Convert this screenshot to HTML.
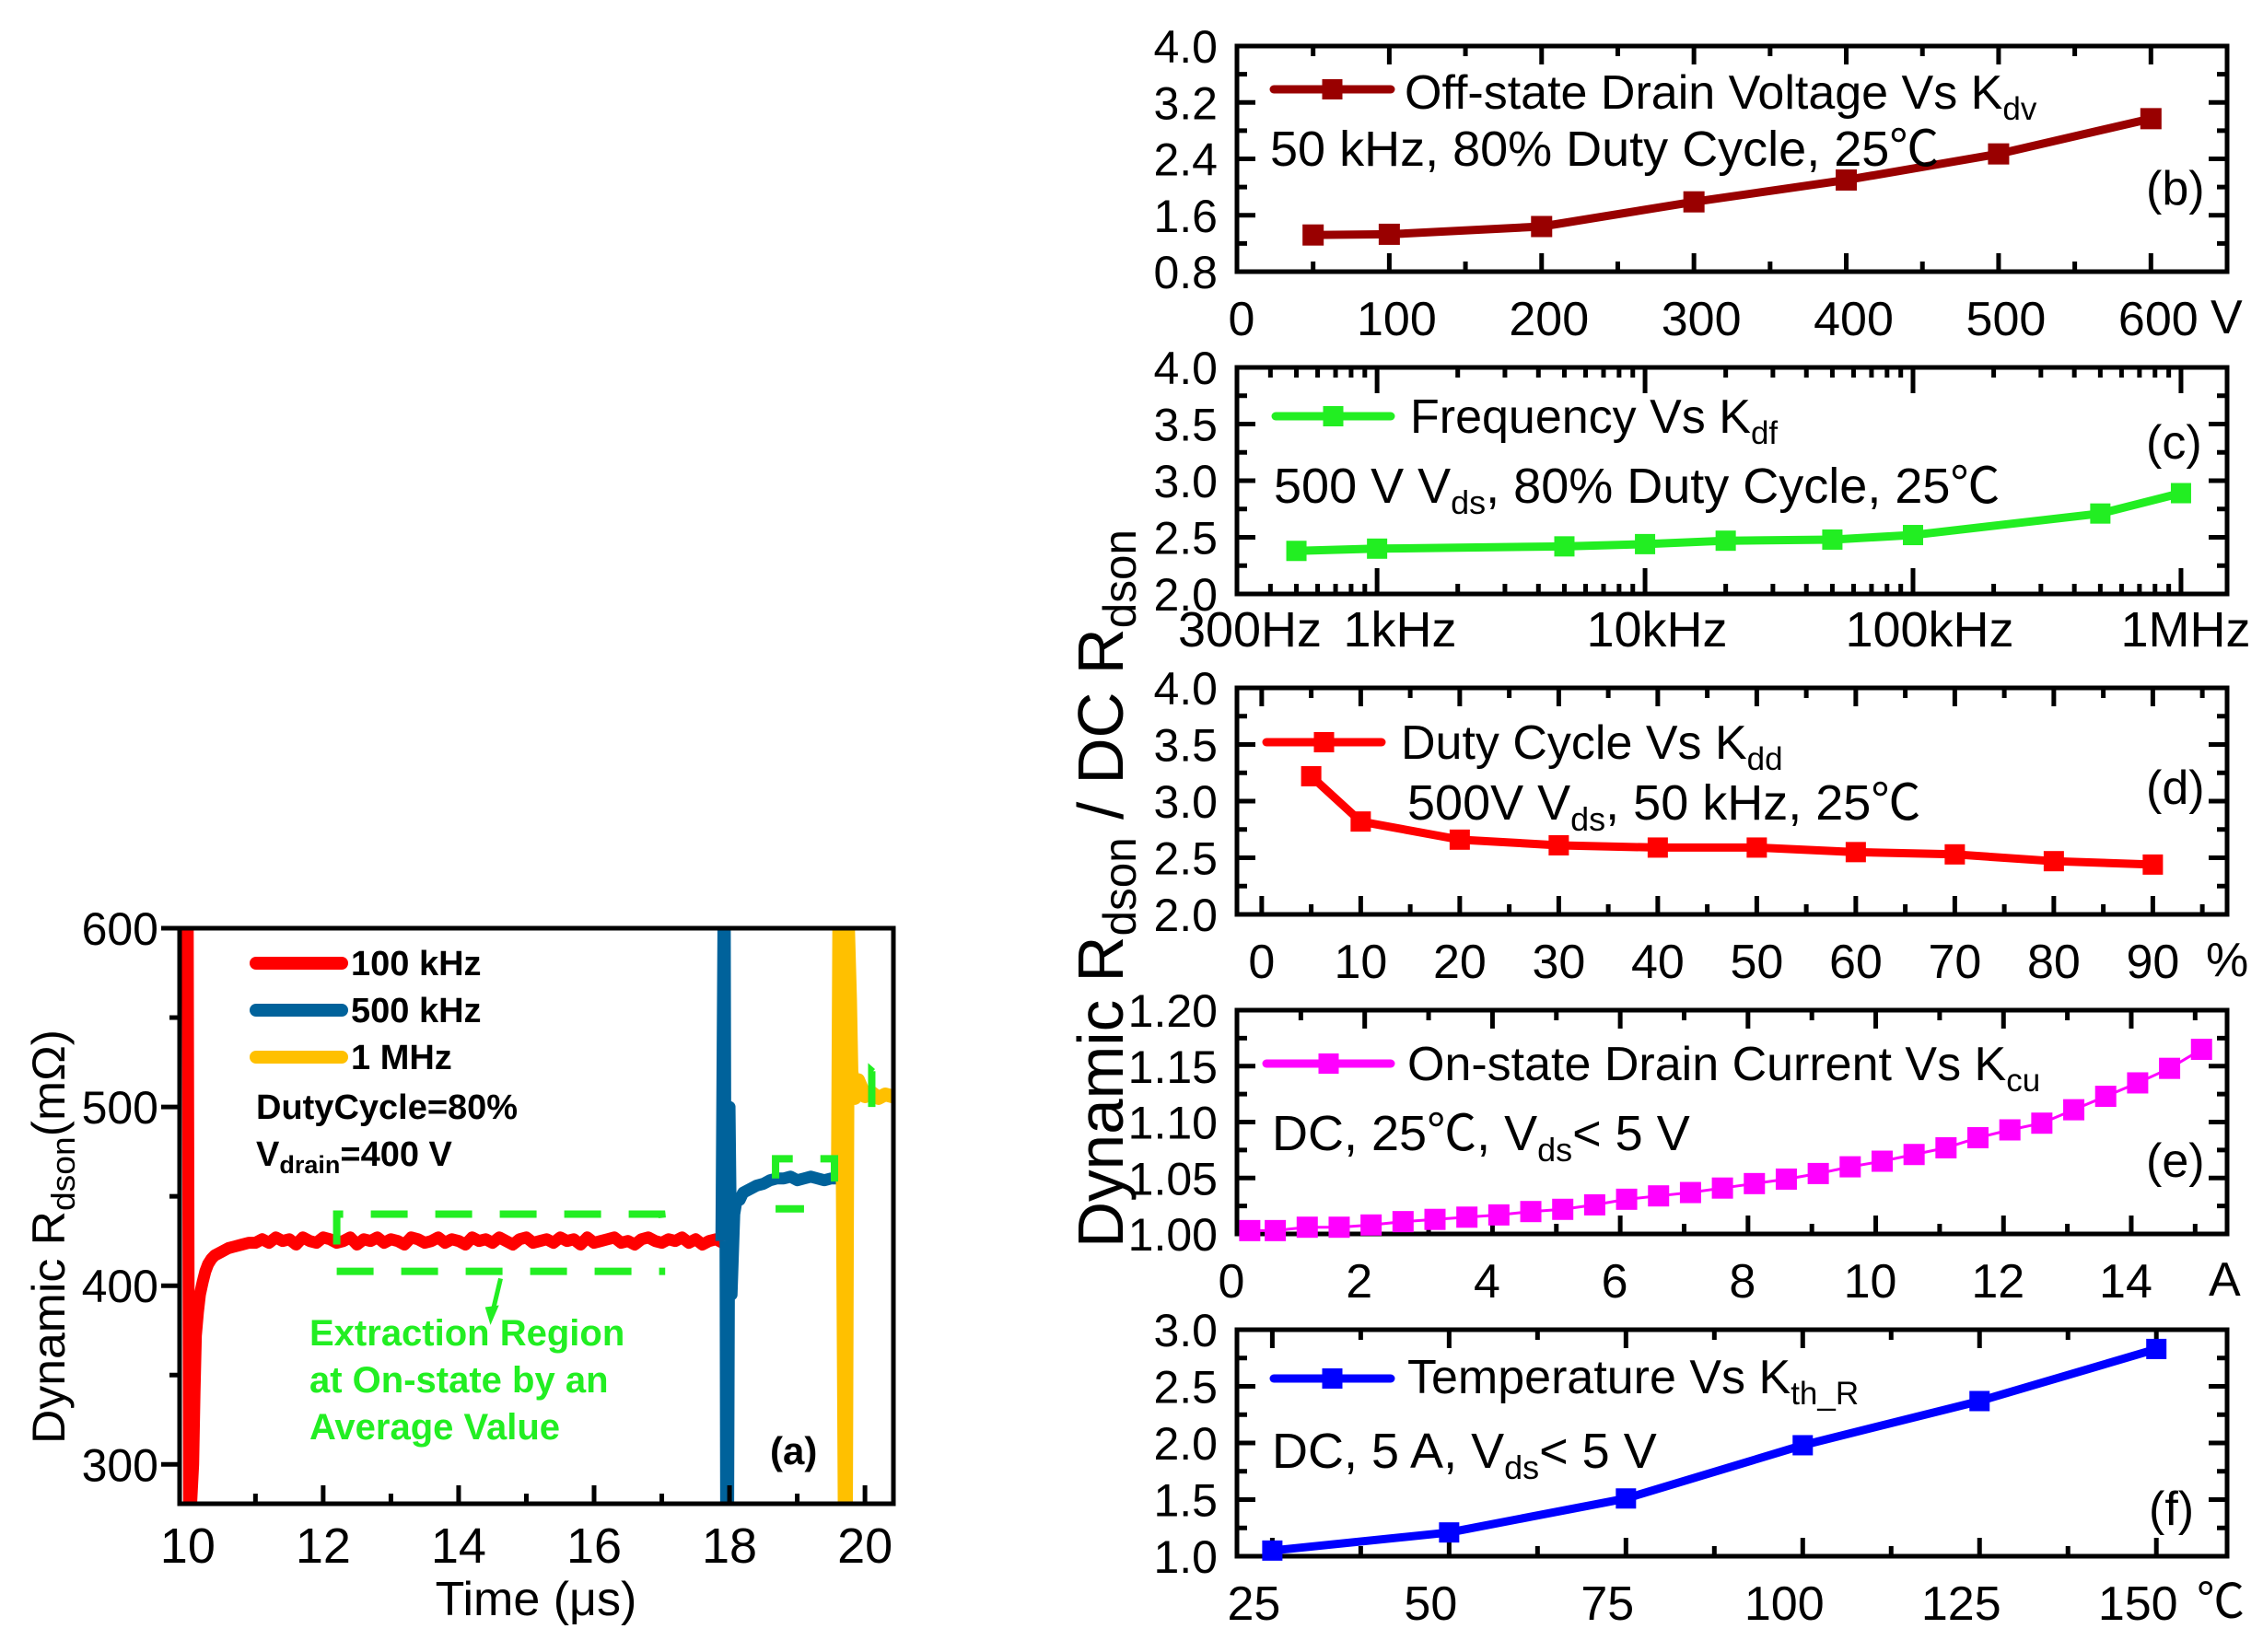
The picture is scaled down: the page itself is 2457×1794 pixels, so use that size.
<!DOCTYPE html>
<html><head><meta charset="utf-8"><style>
html,body{margin:0;padding:0;background:#fff}
svg{display:block;font-family:"Liberation Sans","Noto Sans CJK SC",sans-serif}
</style></head><body>
<svg id="fig" width="2457" height="1794" viewBox="0 0 2457 1794" xmlns="http://www.w3.org/2000/svg">
<rect width="2457" height="1794" fill="#fff"/>
<defs><clipPath id="clipA"><rect x="195" y="1008" width="775" height="625"/></clipPath></defs>
<g id="layer"></g>

<text transform="translate(1219,965) rotate(-90)" text-anchor="middle" font-size="70" textLength="780" lengthAdjust="spacingAndGlyphs">Dynamic R<tspan font-size="50" dy="14">dson</tspan><tspan dy="-14"> / DC R</tspan><tspan font-size="50" dy="14">dson</tspan></text>
<text transform="translate(70,1343) rotate(-90)" text-anchor="middle" font-size="50" textLength="450" lengthAdjust="spacingAndGlyphs">Dynamic R<tspan font-size="36" dy="11">dson</tspan><tspan dy="-11">(mΩ)</tspan></text>
<text x="582" y="1754" text-anchor="middle" font-size="52">Time (μs)</text>

<g font-weight="bold" font-size="38">
<text x="381" y="1059">100 kHz</text>
<text x="381" y="1110">500 kHz</text>
<text x="381" y="1161">1 MHz</text>
<text x="278" y="1215">DutyCycle=80%</text>
<text x="278" y="1266">V<tspan font-size="27" dy="8">drain</tspan><tspan dy="-8">=400 V</tspan></text>
<text x="836" y="1590" font-size="42">(a)</text>
<g fill="#22ee22" font-size="40">
<text x="336" y="1461">Extraction Region</text>
<text x="336" y="1512">at On-state by an</text>
<text x="336" y="1563">Average Value</text>
</g></g>

<g font-size="52">
<text x="1525" y="118">Off-state Drain Voltage Vs K<tspan font-size="35" dy="12">dv</tspan></text>
<text x="1379" y="180" font-size="54">50 kHz, 80% Duty Cycle, 25℃</text>
<text x="2330" y="222">(b)</text>

<text x="1531" y="470">Frequency Vs K<tspan font-size="35" dy="12">df</tspan></text>
<text x="1383" y="546" font-size="54">500 V V<tspan font-size="36" dy="12">ds</tspan><tspan dy="-12">, 80% Duty Cycle, 25℃</tspan></text>
<text x="2330" y="498">(c)</text>

<text x="1521" y="824">Duty Cycle Vs K<tspan font-size="35" dy="12">dd</tspan></text>
<text x="1528" y="890" font-size="54">500V V<tspan font-size="36" dy="12">ds</tspan><tspan dy="-12">, 50 kHz, 25℃</tspan></text>
<text x="2330" y="873">(d)</text>

<text x="1528" y="1173">On-state Drain Current Vs K<tspan font-size="35" dy="12">cu</tspan></text>
<text x="1381" y="1249" font-size="54">DC, 25℃, V<tspan font-size="36" dy="12">ds</tspan><tspan dy="-12">&lt; 5 V</tspan></text>
<text x="2330" y="1278">(e)</text>

<text x="1528" y="1513">Temperature Vs K<tspan font-size="35" dy="12">th_R</tspan></text>
<text x="1381" y="1594" font-size="54">DC, 5 A, V<tspan font-size="36" dy="12">ds</tspan><tspan dy="-12">&lt; 5 V</tspan></text>
<text x="2333" y="1656">(f)</text>

<text x="2400" y="362">V</text>
<text x="2395" y="1060">%</text>
<text x="2398" y="1407">A</text>
<text x="2385" y="1757">℃</text>
</g>
</svg>
<script>
// ---------- data ----------
const bX = [50,100,200,300,400,500,600];
const bY = [1.32,1.33,1.44,1.79,2.1,2.47,2.97];
const cX = [500,1000,5000,10000,20000,50000,100000,500000,1000000];
const cY = [2.38,2.40,2.42,2.44,2.47,2.48,2.52,2.71,2.89];
const dX = [5,10,20,30,40,50,60,70,80,90];
const dY = [3.22,2.82,2.66,2.61,2.59,2.59,2.55,2.53,2.47,2.44];
const eX = [0.2,0.6,1.1,1.6,2.1,2.6,3.1,3.6,4.1,4.6,5.1,5.6,6.1,6.6,7.1,7.6,8.1,8.6,9.1,9.6,10.1,10.6,11.1,11.6,12.1,12.6,13.1,13.6,14.1,14.6,15.1];
const eY = [1.003,1.003,1.006,1.006,1.008,1.011,1.013,1.015,1.017,1.02,1.022,1.026,1.031,1.034,1.037,1.041,1.045,1.049,1.054,1.06,1.065,1.071,1.077,1.086,1.093,1.099,1.111,1.123,1.135,1.148,1.165];
const fX = [25,50,75,100,125,150];
const fY = [1.05,1.21,1.51,1.98,2.37,2.83];

const redT = [9.99,10.0,10.02,10.05,10.08,10.1,10.12,10.15,10.18,10.22,10.26,10.3,10.35,10.4,10.5,10.6,10.7,10.8,10.9,11.0];
const redV = [600,600,278,278,300,340,372,385,395,402,408,412,415,417,419,421,422,423,424,424];
const redFlatStart = 11.1, redFlatStep = 0.1;
const redFlatV = [426,424,427,425,426,423,427,425,424,427,426,424,425,427,423,426,425,427,424,426,425,423,427,426,424,425,427,424,426,425,423,427,425,426,424,427,425,423,426,427,424,425,426,424,427,425,426,423,427,424,425,426,427,424,425,423,426,427,425,424,426,425,427,424,426,423,425,426,424];
const blueT = [17.88,17.91,17.93,17.95,17.98,18.0,18.03,18.07,18.1,18.15,18.2,18.3,18.4,18.5,18.6,18.7,18.8,18.9,19.0,19.1,19.2,19.3,19.4,19.5,19.6];
const blueV = [425,600,600,278,278,500,395,440,447,448,452,454,456,457,459,460,460,461,459,460,461,460,459,460,460];
const yelT = [19.6,19.62,19.65,19.7,19.72,19.75,19.78,19.8,19.85,19.9,20.0,20.1,20.2,20.3,20.4,20.45];
const yelV = [460,600,600,278,278,600,560,520,505,515,506,508,505,507,506,507];

const aXTicks = [10,12,14,16,18,20];
const aYTicks = [300,400,500,600];
const bXTicks = [0,100,200,300,400,500,600];
const bYTicks = [0.8,1.6,2.4,3.2,4.0];
const cXLabels = ["300Hz","1kHz","10kHz","100kHz","1MHz"];
const dXTicks = [0,10,20,30,40,50,60,70,80,90];
const e_XTicks = [0,2,4,6,8,10,12,14];
const eYTicks = [1.00,1.05,1.10,1.15,1.20];
const fXTicks = [25,50,75,100,125,150];
const halfYTicks = [1.0,1.5,2.0,2.5,3.0,3.5,4.0];

// ---------- helpers ----------
const NS='http://www.w3.org/2000/svg';
const layer=document.getElementById('layer');
function mk(tag,attrs,parent){const el=document.createElementNS(NS,tag);for(const k in attrs)el.setAttribute(k,attrs[k]);(parent||layer).appendChild(el);return el;}
function lin(d0,d1,r0,r1){return v=>r0+(v-d0)/(d1-d0)*(r1-r0);}
function lg(d0,d1,r0,r1){const a=Math.log10(d0),b=Math.log10(d1);return v=>r0+(Math.log10(v)-a)/(b-a)*(r1-r0);}

function box(x0,y0,x1,y1,name){
  const r=mk('rect',{x:x0,y:y0,width:x1-x0,height:y1-y0,fill:'none',stroke:'#000','stroke-width':5});
  
  
}
function xtick(x,y0,y1,len,name){
  const a=mk('line',{x1:x,x2:x,y1:y1,y2:y1-len,stroke:'#000','stroke-width':5});
  
  
  if(y0!==null){const b=mk('line',{x1:x,x2:x,y1:y0,y2:y0+len,stroke:'#000','stroke-width':5});
  
  }
}
function ytick(y,x0,x1,len,name){
  const a=mk('line',{x1:x0,x2:x0+len,y1:y,y2:y,stroke:'#000','stroke-width':5});
  
  
  if(x1!==null){const b=mk('line',{x1:x1,x2:x1-len,y1:y,y2:y,stroke:'#000','stroke-width':5});
  
  }
}
function label(x,y,txt,anchor,size,name){
  const t=mk('text',{x:x,y:y,'text-anchor':anchor,'font-size':size});
  t.textContent=txt;
  
  
}
function series(X,Y,xs,ys,color,name,lw,ms,noLine){
  if(!noLine){
    const p=mk('polyline',{points:X.map((v,i)=>xs(v)+','+ys(Y[i])).join(' '),fill:'none',stroke:color,'stroke-width':lw,'stroke-linejoin':'round','stroke-linecap':'round'});
    
    
  }
  X.forEach((v,i)=>{
    const r=mk('rect',{x:xs(v)-ms/2,y:ys(Y[i])-ms/2,width:ms,height:ms,fill:color});
    
    
  });
}
function legendLine(x0,x1,y,color,name){
  const l=mk('line',{x1:x0,x2:x1,y1:y,y2:y,stroke:color,'stroke-width':9,'stroke-linecap':'round'});
  
  
  const m=mk('rect',{x:(x0+x1)/2-11,y:y-11,width:22,height:22,fill:color});
  
  
}
const L=1343,R=2418,MJ=20,MN=11,TS=50;

// ---------- panel b ----------
{const xs=lin(0,650,L,R),ys=lin(0.8,4.0,295,50);
 box(L,50,R,295,'panel-b-frame');
 for(let v=50;v<=600;v+=50)xtick(xs(v),50,295,v%100===0?MJ:MN,'panel-b-x-tick');
 for(let v=0.8;v<=4.01;v+=0.4)ytick(ys(v),L,R,Math.abs((v-0.8)/0.8-Math.round((v-0.8)/0.8))<0.01?MJ:MN,'panel-b-y-tick');
 bXTicks.forEach(v=>label(xs(v)+(v?8:5),364,String(v),'middle',TS+2,'panel-b-x-tick-label'));
 bYTicks.forEach(v=>label(1322,ys(v)+18,v.toFixed(1),'end',TS,'panel-b-y-tick-label'));
 legendLine(1383,1510,97,'#990000','legend-b-line');
 series(bX,bY,xs,ys,'#990000','series-b',9,23);}

// ---------- panel c ----------
{const xs=lg(300,1.486e6,L,R),ys=lin(2,4,645,399);
 box(L,399,R,645,'panel-c-frame');
 for(let d=100;d<=1e6;d*=10)for(let k=1;k<10;k++){const v=d*k;if(v<310||v>1.48e6)continue;xtick(xs(v),399,645,k===1?MJ+8:MN,'panel-c-x-tick');}
 for(let v=2.25;v<4;v+=0.25)ytick(ys(v),L,R,Math.abs(v*2-Math.round(v*2))<0.01?MJ:MN,'panel-c-y-tick');
 const pos=[1357,1520,1799,2095,2373];
 cXLabels.forEach((t,i)=>label(pos[i],702,t,'middle',TS+4,'panel-c-x-tick-label'));
 halfYTicks.filter(v=>v>=2).forEach(v=>label(1322,ys(v)+18,v.toFixed(1),'end',TS,'panel-c-y-tick-label'));
 legendLine(1385,1510,452,'#22ee22','legend-c-line');
 series(cX,cY,xs,ys,'#22ee22','series-c',9,22);}

// ---------- panel d ----------
{const xs=lin(-2.5,97.5,L,R),ys=lin(2,4,993,747);
 box(L,747,R,993,'panel-d-frame');
 for(let v=0;v<=95;v+=5)xtick(xs(v),747,993,v%10===0?MJ:MN,'panel-d-x-tick');
 for(let v=2.25;v<4;v+=0.25)ytick(ys(v),L,R,Math.abs(v*2-Math.round(v*2))<0.01?MJ:MN,'panel-d-y-tick');
 dXTicks.forEach(v=>label(xs(v),1062,String(v),'middle',TS+2,'panel-d-x-tick-label'));
 halfYTicks.filter(v=>v>=2).forEach(v=>label(1322,ys(v)+18,v.toFixed(1),'end',TS,'panel-d-y-tick-label'));
 legendLine(1375,1500,806,'#ff0000','legend-d-line');
 series(dX,dY,xs,ys,'#ff0000','series-d',9,22);}

// ---------- panel e ----------
{const xs=lin(0,15.5,L,R),ys=lin(1,1.2,1340,1097);
 box(L,1097,R,1340,'panel-e-frame');
 for(let v=1;v<=15;v+=1)xtick(xs(v),1097,1340,v%2===0?MJ:MN,'panel-e-x-tick');
 for(let v=1.025;v<1.2;v+=0.025)ytick(ys(v),L,R,Math.abs(v*20-Math.round(v*20))<0.01?MJ:MN,'panel-e-y-tick');
 e_XTicks.forEach(v=>label(xs(v)-6,1409,String(v),'middle',TS+2,'panel-e-x-tick-label'));
 eYTicks.forEach(v=>label(1322,ys(v)+18,v.toFixed(2),'end',TS,'panel-e-y-tick-label'));
 legendLine(1375,1510,1155,'#ff00ff','legend-e-line');
 series(eX,eY,xs,ys,'#ff00ff','series-e',3,23);}

// ---------- panel f ----------
{const xs=lin(20,160,L,R),ys=lin(1,3,1690,1444);
 box(L,1444,R,1690,'panel-f-frame');
 for(let v=25;v<=150;v+=12.5)xtick(xs(v),1444,1690,(v-25)%25===0?MJ:MN,'panel-f-x-tick');
 for(let v=1.25;v<3;v+=0.25)ytick(ys(v),L,R,Math.abs(v*2-Math.round(v*2))<0.01?MJ:MN,'panel-f-y-tick');
 fXTicks.forEach(v=>label(xs(v)-20,1759,String(v),'middle',TS+2,'panel-f-x-tick-label'));
 halfYTicks.filter(v=>v<=3).forEach(v=>label(1322,ys(v)+18,v.toFixed(1),'end',TS,'panel-f-y-tick-label'));
 legendLine(1383,1510,1497,'#0000ff','legend-f-line');
 series(fX,fY,xs,ys,'#0000ff','series-f',9,22);}

// ---------- panel a ----------
{const xs=lin(9.88,20.42,195,970),ys=lin(278,600,1633,1008);
 const g=mk('g',{'clip-path':'url(#clipA)'});
 
 
 function wave(T,V,color,name,w){
   const p=mk('polyline',{points:T.map((t,i)=>xs(t)+','+ys(V[i])).join(' '),fill:'none',stroke:color,'stroke-width':w,'stroke-linejoin':'round'},g);
   
   
 }
 const rt=redT.concat(redFlatV.map((v,i)=>redFlatStart+i*redFlatStep));
 const rv=redV.concat(redFlatV);
 wave(rt,rv,'#ff0000','trace-100khz',13);
 wave(blueT,blueV,'#00629b',"trace-500khz",13);
 wave(yelT,yelV,'#ffc000','trace-1mhz',15);
 const G='#22ee22';
 function dash(pts,name){
   const p=mk('polyline',{points:pts.map(q=>xs(q[0])+','+ys(q[1])).join(' '),fill:'none',stroke:G,'stroke-width':8,'stroke-dasharray':'40 30'},g);
   
   
 }
 dash([[12.2,423],[12.2,440],[17.0,440],[17.05,423]],'extraction-box-top');
 dash([[12.2,408],[17.05,408]],'extraction-box-bottom');
 dash([[18.68,460],[18.68,471],[19.55,471],[19.55,452]],'extraction-box-500k-top');
 dash([[18.68,443],[19.1,443]],'extraction-box-500k-bottom');
 dash([[20.1,500],[20.1,520],[20.4,510]],'extraction-box-1m');
 const ar=mk('line',{x1:xs(14.62),y1:ys(404),x2:xs(14.5),y2:ys(385),stroke:G,'stroke-width':5},g);
 
 
 const ah=mk('polygon',{points:`${xs(14.5)-8},${ys(388)} ${xs(14.5)+7},${ys(389)} ${xs(14.47)},${ys(378)}`,fill:G},g);
 
 
 box(195,1008,970,1633,'panel-a-frame');
 for(let v=11;v<=20;v+=1)xtick(xs(v),null,1633,v%2===0?MJ:MN,'panel-a-x-tick');
 for(let v=300;v<=600;v+=50)ytick(ys(v),195-(v%100===0?MJ:MN),null,v%100===0?MJ:MN,'panel-a-y-tick');
 aXTicks.forEach(v=>label(xs(v),1697,String(v),'middle',54,'panel-a-x-tick-label'));
 aYTicks.forEach(v=>label(172,ys(v)+18,String(v),'end',50,'panel-a-y-tick-label'));
 const legC=['#ff0000','#00629b','#ffc000'],legN=['legend-100khz-line','legend-500khz-line','legend-1mhz-line'];
 [1046,1097,1148].forEach((y,i)=>{
   const l=mk('line',{x1:278,x2:371,y1:y,y2:y,stroke:legC[i],'stroke-width':14,'stroke-linecap':'round'});
   
   
 });}
</script>
</body></html>
